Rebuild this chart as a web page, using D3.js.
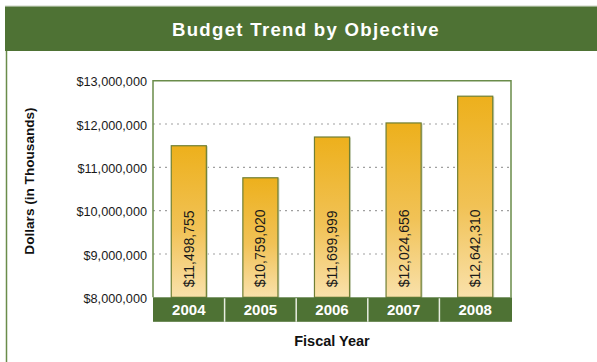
<!DOCTYPE html>
<html>
<head>
<meta charset="utf-8">
<script src="https://cdn.jsdelivr.net/npm/d3@7"></script>
<style>
  html, body { margin: 0; padding: 0; background: #fff; }
  svg { display: block; }
</style>
</head>
<body>
<svg id="chart" width="597" height="362"></svg>
<script>
// Fiscal years and annual budget totals
const years = ["2004", "2005", "2006", "2007", "2008"];
const budgets = [11498755, 10759020, 11699999, 12024656, 12642310];
const yTicks = [8000000, 9000000, 10000000, 11000000, 12000000, 13000000];
const gridTicks = [9000000, 10000000, 11000000, 12000000];

const titleText = "Budget Trend by Objective";
const xTitle = "Fiscal Year";
const yTitle = "Dollars (in Thousands)";

const green = "#4e7234";
const frameGreen = "#6a8c4a";

const svg = d3.select("#chart");
const W = 597, H = 362;

const plot = { left: 153, right: 511, top: 80.7, bottom: 297.3, bandH: 24.5 };

const x = d3.scaleBand()
  .domain(years)
  .range([plot.left, plot.right])
  .paddingInner(0.51)
  .paddingOuter(0.255);

const y = d3.scaleLinear()
  .domain([8000000, 13000000])
  .range([plot.bottom, plot.top]);

const money = d => "$" + d3.format(",")(d);

// Bar fill gradient: deep gold at the top fading to pale cream
const defs = svg.append("defs");
const grad = defs.append("linearGradient")
  .attr("id", "barGrad")
  .attr("x1", 0).attr("y1", 0).attr("x2", 0).attr("y2", 1);
grad.append("stop").attr("offset", "0%").attr("stop-color", "#edb01c");
grad.append("stop").attr("offset", "55%").attr("stop-color", "#f1c256");
grad.append("stop").attr("offset", "100%").attr("stop-color", "#f9e1ab");

// Header band with title
svg.append("line")
  .attr("x1", 5).attr("x2", W).attr("y1", 6).attr("y2", 6)
  .attr("stroke", "#c9d2c0").attr("stroke-width", 1);
svg.append("rect")
  .attr("x", 5).attr("y", 6.5)
  .attr("width", W - 5).attr("height", 44.5)
  .attr("fill", green);
svg.append("text")
  .attr("x", 306).attr("y", 36)
  .attr("text-anchor", "middle")
  .attr("font-family", "Liberation Sans, Arial, sans-serif")
  .attr("font-weight", "bold")
  .attr("font-size", 18.6)
  .attr("letter-spacing", 1.3)
  .attr("fill", "#fff")
  .text(titleText);

// Left page rule below the header
svg.append("line")
  .attr("x1", 6.5).attr("x2", 6.5).attr("y1", 51).attr("y2", H)
  .attr("stroke", frameGreen).attr("stroke-width", 1.5);

// Dotted gridlines (behind the bars)
svg.append("g")
  .selectAll("line")
  .data(gridTicks)
  .join("line")
  .attr("x1", plot.left).attr("x2", plot.right)
  .attr("y1", d => y(d)).attr("y2", d => y(d))
  .attr("stroke", "#a0a0a0")
  .attr("stroke-width", 1.2)
  .attr("stroke-dasharray", "2,4");

// Plot frame: top, left, right
svg.append("path")
  .attr("d", `M${plot.left},${plot.bottom} V${plot.top} H${plot.right} V${plot.bottom}`)
  .attr("fill", "none")
  .attr("stroke", frameGreen)
  .attr("stroke-width", 1.5);

// Bars with a soft right-side shadow
const bars = svg.append("g");
bars.selectAll("rect.shadow")
  .data(budgets)
  .join("rect")
  .attr("class", "shadow")
  .attr("x", (d, i) => x(years[i]) + 1.5)
  .attr("y", d => y(d) + 0.5)
  .attr("width", x.bandwidth())
  .attr("height", d => plot.bottom - y(d))
  .attr("fill", "#cfd6c3");
bars.selectAll("rect.bar")
  .data(budgets)
  .join("rect")
  .attr("class", "bar")
  .attr("x", (d, i) => x(years[i]))
  .attr("y", d => y(d))
  .attr("width", x.bandwidth())
  .attr("height", d => plot.bottom - y(d))
  .attr("fill", "url(#barGrad)")
  .attr("stroke", "#6f7f34")
  .attr("stroke-width", 1.2);

// Value labels, rotated inside each bar
svg.append("g")
  .selectAll("text")
  .data(budgets)
  .join("text")
  .attr("transform", (d, i) =>
    `translate(${x(years[i]) + x.bandwidth() / 2},${plot.bottom - 10}) rotate(-90)`)
  .attr("dy", "0.36em")
  .attr("text-anchor", "start")
  .attr("font-family", "Liberation Sans, Arial, sans-serif")
  .attr("font-size", 14)
  .attr("fill", "#1a1a1a")
  .text(d => money(d));

// Y axis tick labels
const yAxis = d3.axisLeft(y)
  .tickValues(yTicks)
  .tickFormat(money)
  .tickSize(0)
  .tickPadding(6);
const yg = svg.append("g")
  .attr("transform", `translate(${plot.left},0)`)
  .call(yAxis);
yg.select(".domain").remove();
yg.selectAll("text")
  .attr("font-family", "Liberation Sans, Arial, sans-serif")
  .attr("font-size", 12.7)
  .attr("fill", "#1a1a1a")
  .attr("dy", "0.4em");

// Category band under the plot
svg.append("rect")
  .attr("x", plot.left).attr("y", plot.bottom)
  .attr("width", plot.right - plot.left + 1)
  .attr("height", plot.bandH)
  .attr("fill", green);
const step = x.step();
svg.append("g")
  .selectAll("line")
  .data(years.slice(1))
  .join("line")
  .attr("x1", d => x(d) - (step - x.bandwidth()) / 2)
  .attr("x2", d => x(d) - (step - x.bandwidth()) / 2)
  .attr("y1", plot.bottom + 1).attr("y2", plot.bottom + plot.bandH)
  .attr("stroke", "#e8ede2")
  .attr("stroke-width", 1.5);

const xAxis = d3.axisBottom(x).tickSize(0).tickPadding(0);
const xg = svg.append("g")
  .attr("transform", `translate(0,${plot.bottom})`)
  .call(xAxis);
xg.select(".domain").remove();
xg.selectAll("text")
  .attr("y", 18)
  .attr("dy", 0)
  .attr("font-family", "Liberation Sans, Arial, sans-serif")
  .attr("font-weight", "bold")
  .attr("font-size", 15)
  .attr("fill", "#fff");

// Axis titles
svg.append("text")
  .attr("x", (plot.left + plot.right) / 2)
  .attr("y", 346)
  .attr("text-anchor", "middle")
  .attr("font-family", "Liberation Sans, Arial, sans-serif")
  .attr("font-weight", "bold")
  .attr("font-size", 14.5)
  .attr("fill", "#111")
  .text(xTitle);

svg.append("text")
  .attr("transform", "translate(29.5,181) rotate(-90)")
  .attr("dy", "0.36em")
  .attr("text-anchor", "middle")
  .attr("font-family", "Liberation Sans, Arial, sans-serif")
  .attr("font-weight", "bold")
  .attr("font-size", 13.6)
  .attr("fill", "#111")
  .text(yTitle);
</script>
</body>
</html>
